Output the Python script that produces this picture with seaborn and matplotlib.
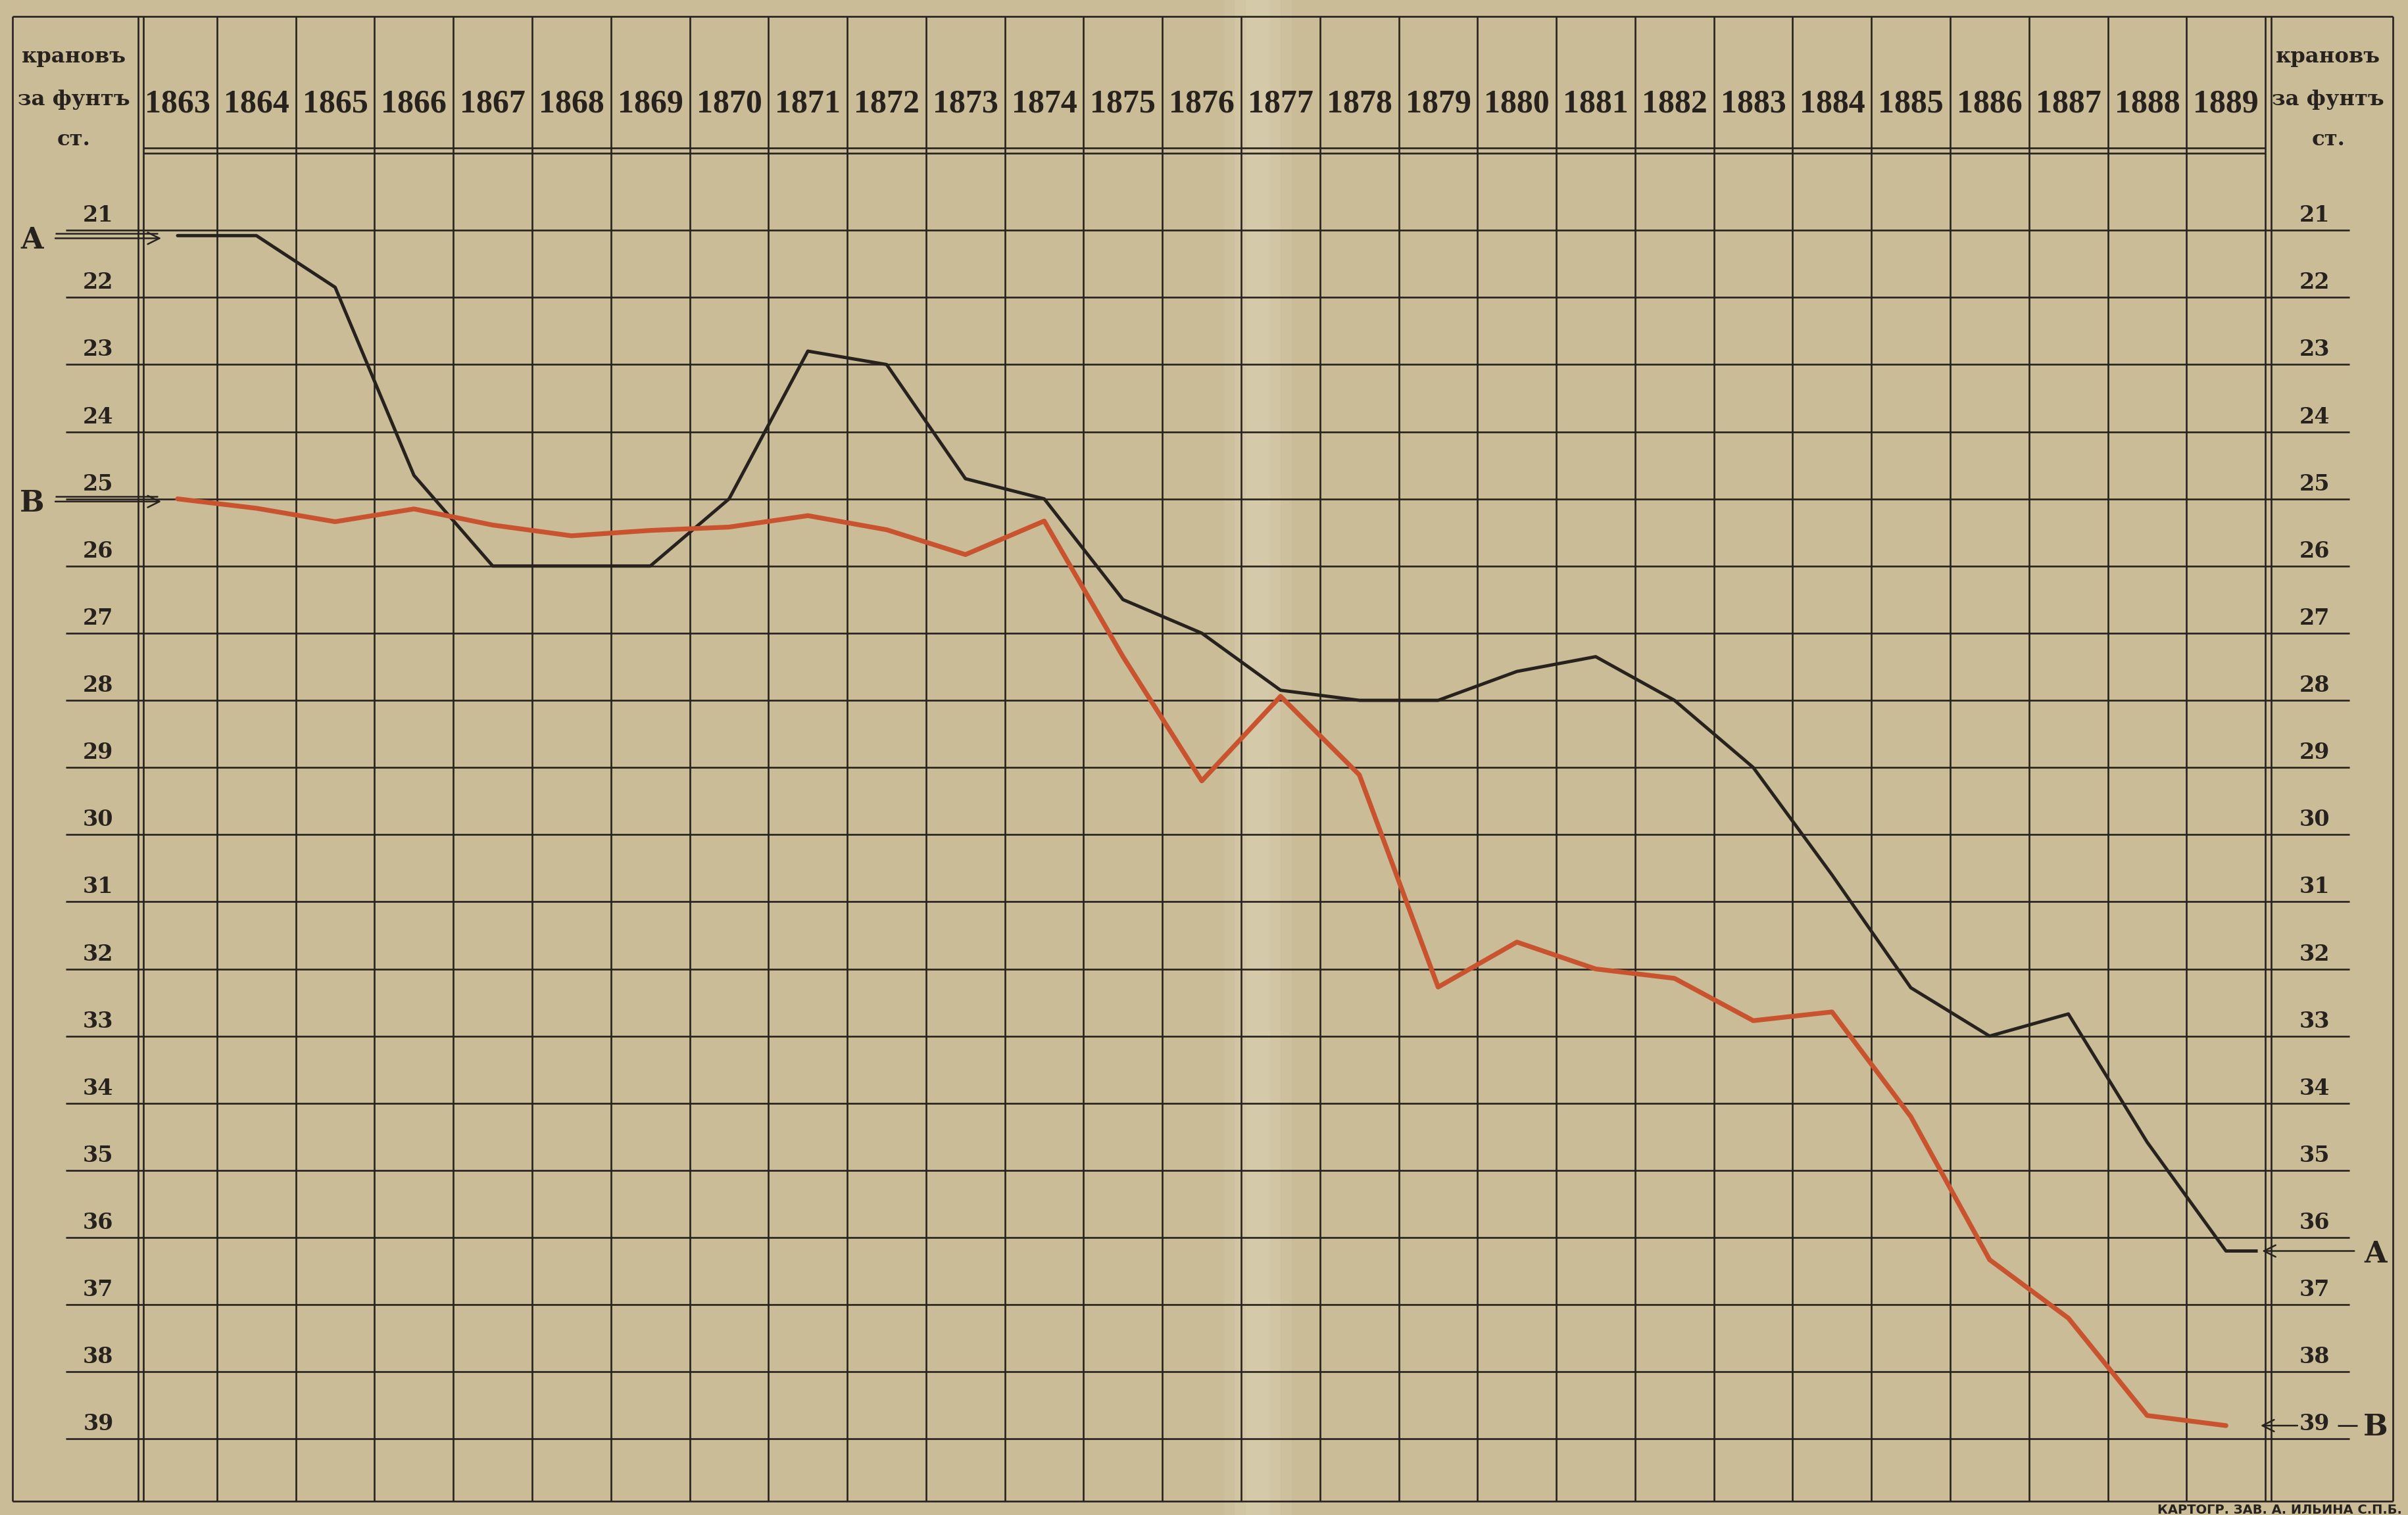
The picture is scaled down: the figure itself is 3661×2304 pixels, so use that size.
import numpy as np
import pandas as pd
import seaborn as sns
import matplotlib.pyplot as plt

# курс: кранов за фунт стерлингов, 1863-1889
years = list(range(1863, 1890))
rate_a = [21.08, 21.08, 21.85, 24.65, 26.0, 26.0, 26.0, 25.0, 22.8, 23.0,
          24.7, 25.0, 26.5, 27.0, 27.85, 28.0, 28.0, 27.57, 27.35, 28.0,
          29.0, 30.6, 32.28, 33.0, 32.67, 34.58, 36.2]
rate_b = [25.0, 25.14, 25.34, 25.15, 25.39, 25.55, 25.47, 25.42, 25.25, 25.46,
          25.83, 25.33, 27.35, 29.2, 27.94, 29.11, 32.27, 31.6, 32.0, 32.14,
          32.77, 32.64, 34.2, 36.33, 37.2, 38.65, 38.8]
scale = list(range(21, 40))
unit_label = ['крановъ', 'за фунтъ', 'ст.']
imprint = 'КАРТОГР. ЗАВ. А. ИЛЬИНА С.П.Б.'

df = pd.DataFrame({'year': years * 2,
                   'rate': rate_a + rate_b,
                   'line': ['A'] * len(years) + ['B'] * len(years)})

PAPER = '#c9bc97'
INK = '#27221e'
RED = '#c9532f'

sns.set_style('white')
plt.rcParams['font.family'] = ['DejaVu Serif']


# layout helpers: position on the sheet (reference px, 1568 wide) -> data coords
def px_x(p):
    return 1862.5 + (p - 90) / 51.3


def px_y(p):
    return 21 + (p - 150) / 43.75


fig = plt.figure(figsize=(18.305, 11.52), dpi=200, facecolor=PAPER)
ax = fig.add_axes([0, 0, 1, 1])
ax.set_facecolor(PAPER)
ax.set_xlim(px_x(0), px_x(1568))
ax.set_ylim(px_y(987), px_y(0))
ax.axis('off')

# paper fold, soft edges
for w, a in [(22, 0.18), (15, 0.2), (8, 0.22)]:
    ax.axvspan(px_x(819 - w), px_x(819 + w), color='#e2d9bc', alpha=a,
               lw=0, zorder=0)

top, bottom = px_y(10.5), px_y(978)
left, right = px_x(8), px_x(1558)
glw = 0.95

# outer frame
ax.hlines([top, bottom], left, right, color=INK, lw=glw)
ax.vlines([left, right], top, bottom, color=INK, lw=glw)

# year columns (double lines at both edges of the grid)
bounds = np.arange(years[0] - 0.5, years[-1] + 1.0, 1.0)
ax.vlines(bounds, top, bottom, color=INK, lw=glw)
ax.vlines([bounds[0] + 0.065, bounds[-1] + 0.075], top, bottom, color=INK, lw=glw)

# header bottom (double)
ax.hlines([px_y(96.5), px_y(99.8)], bounds[0] + 0.065, bounds[-1],
          color=INK, lw=glw)

# value lines
ax.hlines(scale, px_x(43), px_x(1530), color=INK, lw=glw)

# scale numbers on both sides
for v in scale:
    ax.text(px_x(64), v - 0.22, str(v), ha='center', va='center',
            fontsize=12, fontweight='bold', color=INK)
    ax.text(px_x(1507), v - 0.22, str(v), ha='center', va='center',
            fontsize=12, fontweight='bold', color=INK)

# years
for yr in years:
    ax.text(yr, px_y(68), str(yr), ha='center', va='center', fontsize=18,
            fontweight='bold', family=['Liberation Serif', 'DejaVu Serif'],
            color=INK)

# unit header
for i, t in enumerate(unit_label):
    yy = px_y([37, 65, 91][i])
    ax.text(px_x(48), yy, t, ha='center', va='center', fontsize=11.6,
            fontweight='bold', color=INK)
    ax.text(px_x(1516), yy, t, ha='center', va='center', fontsize=11.6,
            fontweight='bold', color=INK)

# the two curves
sns.lineplot(data=df[df['line'] == 'A'], x='year', y='rate', ax=ax,
             color=INK, lw=1.8, legend=False, zorder=5)
sns.lineplot(data=df[df['line'] == 'B'], x='year', y='rate', ax=ax,
             color=RED, lw=2.6, legend=False, zorder=6)
ax.hlines(rate_a[-1], years[-1], years[-1] + 0.4, color=INK, lw=1.8, zorder=5)

arrow = dict(arrowstyle='->', lw=0.9, color=INK, shrinkA=0, shrinkB=0,
             mutation_scale=16)

# left markers
for val, lab in [(rate_a[0], 'A'), (rate_b[0], 'B')]:
    ax.hlines(val - 0.035, px_x(36), px_x(103), color=INK, lw=0.9)
    ax.annotate('', xy=(px_x(105), val + 0.04), xytext=(px_x(36), val + 0.04),
                arrowprops=arrow)
    ax.text(px_x(21), val + 0.07, lab, ha='center', va='center', fontsize=16,
            fontweight='bold', color=INK)

# right markers
ax.annotate('', xy=(px_x(1473), rate_a[-1]), xytext=(px_x(1533), rate_a[-1]),
            arrowprops=arrow)
ax.text(px_x(1547), rate_a[-1] + 0.05, 'A', ha='center', va='center',
        fontsize=16, fontweight='bold', color=INK)
ax.annotate('', xy=(px_x(1472), rate_b[-1]), xytext=(px_x(1496), rate_b[-1]),
            arrowprops=arrow)
ax.hlines(rate_b[-1], px_x(1522), px_x(1535), color=INK, lw=1.0)
ax.text(px_x(1547), rate_b[-1] + 0.02, 'B', ha='center', va='center',
        fontsize=16, fontweight='bold', color=INK)

ax.text(px_x(1564), px_y(984), imprint, ha='right', va='center', fontsize=7,
        fontweight='bold', family=['DejaVu Sans'], color=INK)

fig.savefig('out.png', dpi=200, facecolor=PAPER)
